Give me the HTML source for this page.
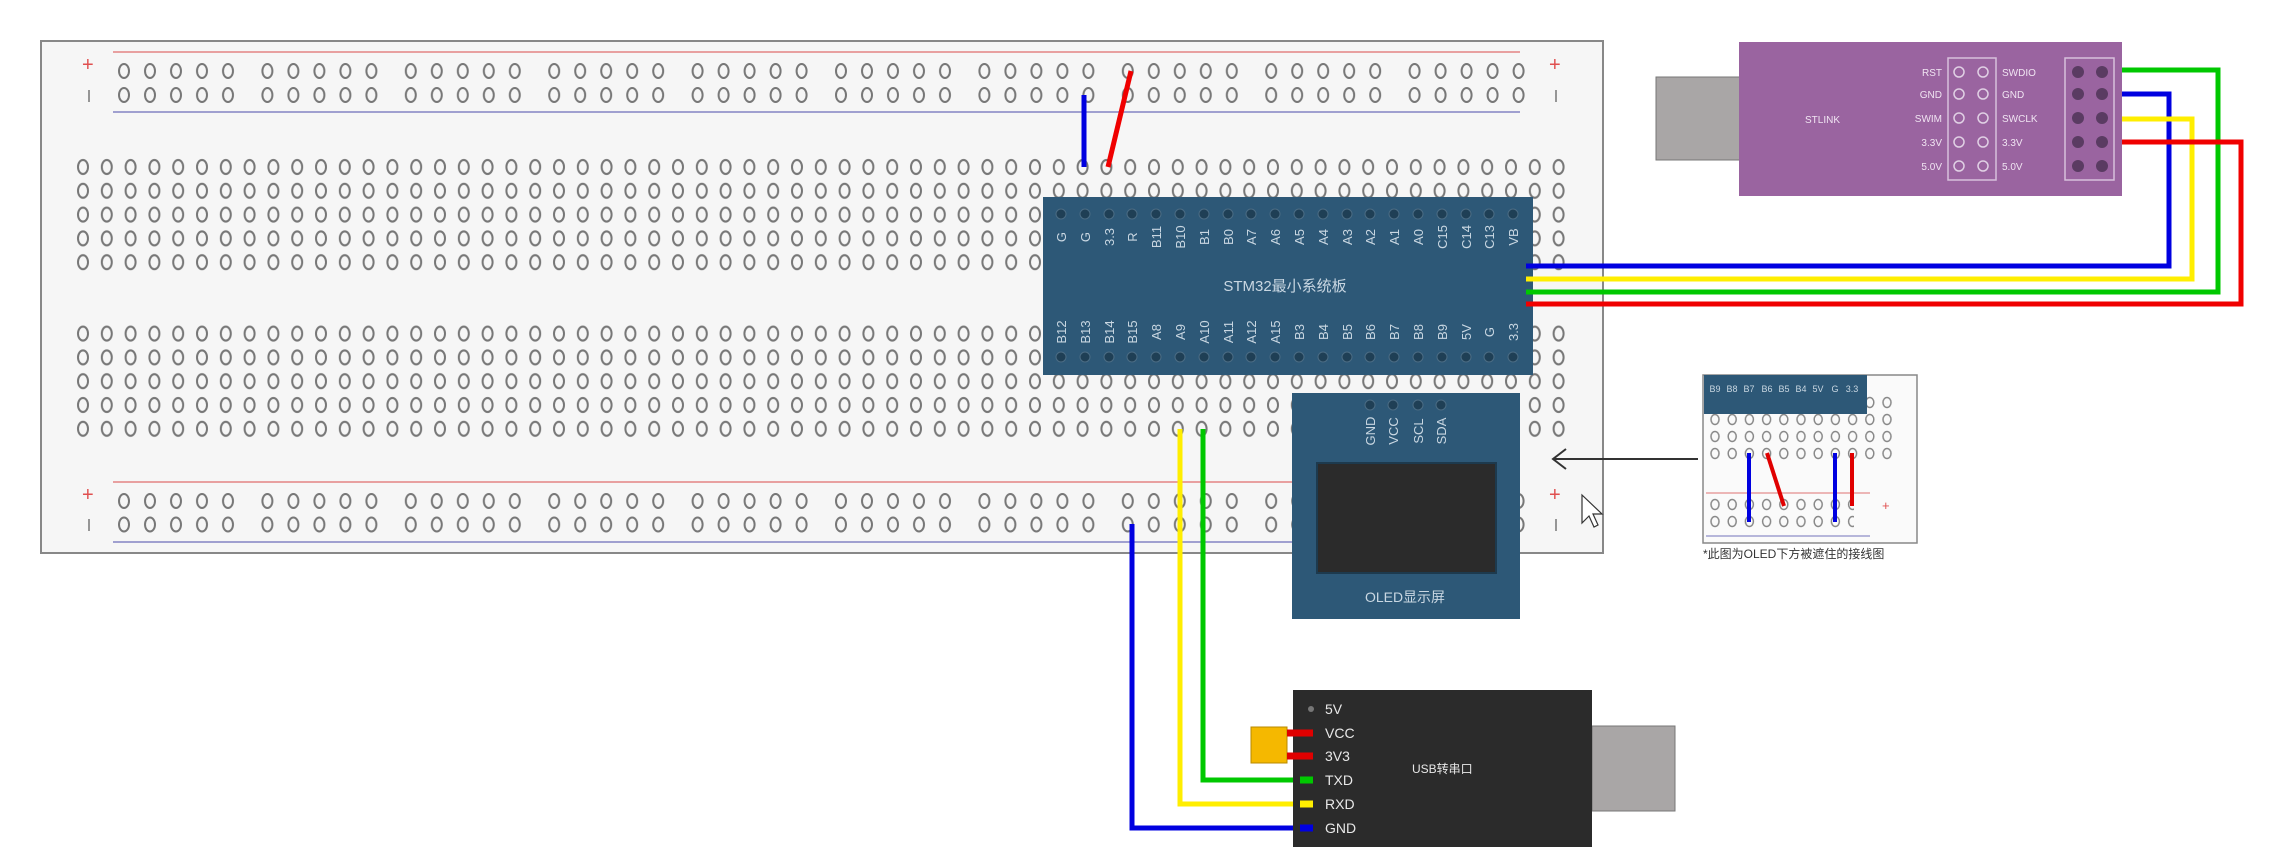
<!DOCTYPE html>
<html><head><meta charset="utf-8"><style>
html,body{margin:0;padding:0;background:#fff;}
svg{display:block;}
text{font-family:"Liberation Sans","Noto Sans CJK SC",sans-serif;}
</style></head><body>
<svg width="2269" height="853" viewBox="0 0 2269 853" xmlns="http://www.w3.org/2000/svg">
<defs>
<pattern id="hole" x="71.1" y="155.1" width="23.8" height="23.8" patternUnits="userSpaceOnUse">
<ellipse cx="11.9" cy="11.9" rx="5" ry="7" fill="none" stroke="#777" stroke-width="2"/>
</pattern>
<pattern id="rail" x="110" y="59" width="143.4" height="24" patternUnits="userSpaceOnUse">
<g fill="none" stroke="#777" stroke-width="2">
<ellipse cx="14" cy="12" rx="5" ry="7"/><ellipse cx="40" cy="12" rx="5" ry="7"/><ellipse cx="66" cy="12" rx="5" ry="7"/><ellipse cx="92" cy="12" rx="5" ry="7"/><ellipse cx="118" cy="12" rx="5" ry="7"/></g>
</pattern>
<pattern id="rail2" x="110" y="489" width="143.4" height="23.5" patternUnits="userSpaceOnUse">
<g fill="none" stroke="#777" stroke-width="2">
<ellipse cx="14" cy="12" rx="5" ry="7"/><ellipse cx="40" cy="12" rx="5" ry="7"/><ellipse cx="66" cy="12" rx="5" ry="7"/><ellipse cx="92" cy="12" rx="5" ry="7"/><ellipse cx="118" cy="12" rx="5" ry="7"/></g>
</pattern>
<pattern id="shole" x="1706.4" y="394" width="17.2" height="17" patternUnits="userSpaceOnUse">
<ellipse cx="8.6" cy="8.5" rx="4" ry="5" fill="none" stroke="#888" stroke-width="1.5"/>
</pattern>
</defs>

<!-- breadboard -->
<rect x="41" y="41" width="1562" height="512" fill="#f6f6f6" stroke="#888" stroke-width="2"/>
<line x1="113" y1="52" x2="1520" y2="52" stroke="#e8a0a0" stroke-width="2"/>
<line x1="113" y1="112" x2="1520" y2="112" stroke="#a0a0d0" stroke-width="2"/>
<line x1="113" y1="482" x2="1520" y2="482" stroke="#e8a0a0" stroke-width="2"/>
<line x1="113" y1="542" x2="1520" y2="542" stroke="#a0a0d0" stroke-width="2"/>
<rect x="110" y="59" width="1434" height="48" fill="url(#rail)"/>
<rect x="110" y="489" width="1434" height="47" fill="url(#rail2)"/>
<rect x="71.1" y="155.1" width="1499.4" height="119" fill="url(#hole)"/>
<rect x="71.1" y="321.1" width="1499.4" height="119" fill="url(#hole)"/>
<g fill="#e05050" font-size="20"><text x="82" y="71">+</text><text x="82" y="501">+</text><text x="1549" y="71">+</text><text x="1549" y="501">+</text></g>
<g stroke="#777" stroke-width="1.5"><line x1="89" y1="90" x2="89" y2="102"/><line x1="89" y1="519" x2="89" y2="531"/><line x1="1556" y1="90" x2="1556" y2="102"/><line x1="1556" y1="519" x2="1556" y2="531"/></g>

<!-- top jumpers -->
<line x1="1084" y1="95" x2="1084" y2="167" stroke="#0000e0" stroke-width="5"/>
<line x1="1131" y1="71" x2="1108" y2="167" stroke="#f00000" stroke-width="5"/>

<!-- STM32 board -->
<rect x="1043" y="197" width="490" height="178" fill="#2d5877"/>
<g fill="#1f3f55" stroke="#4b6c84" stroke-width="1">
<circle cx="1061" cy="214" r="5"/><circle cx="1085" cy="214" r="5"/><circle cx="1109" cy="214" r="5"/><circle cx="1132" cy="214" r="5"/><circle cx="1156" cy="214" r="5"/><circle cx="1180" cy="214" r="5"/><circle cx="1204" cy="214" r="5"/><circle cx="1228" cy="214" r="5"/><circle cx="1251" cy="214" r="5"/><circle cx="1275" cy="214" r="5"/><circle cx="1299" cy="214" r="5"/><circle cx="1323" cy="214" r="5"/><circle cx="1347" cy="214" r="5"/><circle cx="1370" cy="214" r="5"/><circle cx="1394" cy="214" r="5"/><circle cx="1418" cy="214" r="5"/><circle cx="1442" cy="214" r="5"/><circle cx="1466" cy="214" r="5"/><circle cx="1489" cy="214" r="5"/><circle cx="1513" cy="214" r="5"/>
<circle cx="1061" cy="357" r="5"/><circle cx="1085" cy="357" r="5"/><circle cx="1109" cy="357" r="5"/><circle cx="1132" cy="357" r="5"/><circle cx="1156" cy="357" r="5"/><circle cx="1180" cy="357" r="5"/><circle cx="1204" cy="357" r="5"/><circle cx="1228" cy="357" r="5"/><circle cx="1251" cy="357" r="5"/><circle cx="1275" cy="357" r="5"/><circle cx="1299" cy="357" r="5"/><circle cx="1323" cy="357" r="5"/><circle cx="1347" cy="357" r="5"/><circle cx="1370" cy="357" r="5"/><circle cx="1394" cy="357" r="5"/><circle cx="1418" cy="357" r="5"/><circle cx="1442" cy="357" r="5"/><circle cx="1466" cy="357" r="5"/><circle cx="1489" cy="357" r="5"/><circle cx="1513" cy="357" r="5"/>
</g>
<g fill="#c9d7e2" font-size="13" text-anchor="middle">
<text transform="translate(1066,237) rotate(-90)">G</text><text transform="translate(1090,237) rotate(-90)">G</text><text transform="translate(1114,237) rotate(-90)">3.3</text><text transform="translate(1137,237) rotate(-90)">R</text><text transform="translate(1161,237) rotate(-90)">B11</text><text transform="translate(1185,237) rotate(-90)">B10</text><text transform="translate(1209,237) rotate(-90)">B1</text><text transform="translate(1233,237) rotate(-90)">B0</text><text transform="translate(1256,237) rotate(-90)">A7</text><text transform="translate(1280,237) rotate(-90)">A6</text><text transform="translate(1304,237) rotate(-90)">A5</text><text transform="translate(1328,237) rotate(-90)">A4</text><text transform="translate(1352,237) rotate(-90)">A3</text><text transform="translate(1375,237) rotate(-90)">A2</text><text transform="translate(1399,237) rotate(-90)">A1</text><text transform="translate(1423,237) rotate(-90)">A0</text><text transform="translate(1447,237) rotate(-90)">C15</text><text transform="translate(1471,237) rotate(-90)">C14</text><text transform="translate(1494,237) rotate(-90)">C13</text><text transform="translate(1518,237) rotate(-90)">VB</text>
<text transform="translate(1066,332) rotate(-90)">B12</text><text transform="translate(1090,332) rotate(-90)">B13</text><text transform="translate(1114,332) rotate(-90)">B14</text><text transform="translate(1137,332) rotate(-90)">B15</text><text transform="translate(1161,332) rotate(-90)">A8</text><text transform="translate(1185,332) rotate(-90)">A9</text><text transform="translate(1209,332) rotate(-90)">A10</text><text transform="translate(1233,332) rotate(-90)">A11</text><text transform="translate(1256,332) rotate(-90)">A12</text><text transform="translate(1280,332) rotate(-90)">A15</text><text transform="translate(1304,332) rotate(-90)">B3</text><text transform="translate(1328,332) rotate(-90)">B4</text><text transform="translate(1352,332) rotate(-90)">B5</text><text transform="translate(1375,332) rotate(-90)">B6</text><text transform="translate(1399,332) rotate(-90)">B7</text><text transform="translate(1423,332) rotate(-90)">B8</text><text transform="translate(1447,332) rotate(-90)">B9</text><text transform="translate(1471,332) rotate(-90)">5V</text><text transform="translate(1494,332) rotate(-90)">G</text><text transform="translate(1518,332) rotate(-90)">3.3</text>
<text x="1285" y="291" font-size="15">STM32最小系统板</text>
</g>

<!-- SWD wires -->
<g fill="none" stroke-width="5" stroke-linejoin="miter">
<polyline points="1526,266 2169,266 2169,94 2104,94" stroke="#0000e0"/>
<polyline points="1526,279 2192,279 2192,119 2104,119" stroke="#ffee00"/>
<polyline points="1526,292 2218,292 2218,70 2104,70" stroke="#00c800"/>
<polyline points="1526,304 2241,304 2241,142 2104,142" stroke="#f00000"/>
</g>

<!-- ST-Link -->
<rect x="1656" y="77" width="84" height="83" fill="#a9a6a6" stroke="#777"/>
<rect x="1739" y="42" width="383" height="154" fill="#9a64a0"/>
<rect x="1948" y="58" width="48" height="122" fill="none" stroke="#d8c0dc" stroke-width="1.5"/>
<rect x="2065" y="58" width="49" height="122" fill="none" stroke="#d8c0dc" stroke-width="1.5"/>
<g fill="none" stroke="#e0d0e4" stroke-width="1.5">
<circle cx="1959" cy="72" r="5"/><circle cx="1983" cy="72" r="5"/><circle cx="1959" cy="94" r="5"/><circle cx="1983" cy="94" r="5"/><circle cx="1959" cy="118" r="5"/><circle cx="1983" cy="118" r="5"/><circle cx="1959" cy="142" r="5"/><circle cx="1983" cy="142" r="5"/><circle cx="1959" cy="166" r="5"/><circle cx="1983" cy="166" r="5"/></g>
<g fill="#5a3b62">
<circle cx="2078" cy="72" r="6"/><circle cx="2102" cy="72" r="6"/><circle cx="2078" cy="94" r="6"/><circle cx="2102" cy="94" r="6"/><circle cx="2078" cy="118" r="6"/><circle cx="2102" cy="118" r="6"/><circle cx="2078" cy="142" r="6"/><circle cx="2102" cy="142" r="6"/><circle cx="2078" cy="166" r="6"/><circle cx="2102" cy="166" r="6"/></g>
<g fill="#f0e4f2" font-size="10">
<g text-anchor="end"><text x="1942" y="76">RST</text><text x="1942" y="98">GND</text><text x="1942" y="122">SWIM</text><text x="1942" y="146">3.3V</text><text x="1942" y="170">5.0V</text></g>
<text x="2002" y="76">SWDIO</text><text x="2002" y="98">GND</text><text x="2002" y="122">SWCLK</text><text x="2002" y="146">3.3V</text><text x="2002" y="170">5.0V</text>
<text x="1805" y="123">STLINK</text></g>

<!-- OLED wires to USB -->
<g fill="none" stroke-width="5">
<polyline points="1180,429 1180,804 1313,804" stroke="#ffee00"/>
<polyline points="1203,429 1203,780 1313,780" stroke="#00c800"/>
<polyline points="1132,524 1132,828 1313,828" stroke="#0000e0"/>
</g>

<!-- OLED -->
<rect x="1292" y="393" width="228" height="226" fill="#2d5877"/>
<g fill="#1f3f55" stroke="#4b6c84"><circle cx="1370" cy="405" r="5"/><circle cx="1393" cy="405" r="5"/><circle cx="1418" cy="405" r="5"/><circle cx="1441" cy="405" r="5"/></g>
<g fill="#c9d7e2" font-size="13" text-anchor="middle">
<text transform="translate(1375,431) rotate(-90)">GND</text><text transform="translate(1398,431) rotate(-90)">VCC</text><text transform="translate(1423,431) rotate(-90)">SCL</text><text transform="translate(1446,431) rotate(-90)">SDA</text>
<text x="1405" y="602" font-size="14">OLED显示屏</text></g>
<rect x="1317" y="463" width="179" height="110" fill="#2b2b2b" stroke="#1d3a4e" stroke-width="2"/>

<!-- arrow -->
<line x1="1698" y1="459" x2="1553" y2="459" stroke="#333" stroke-width="2"/>
<polyline points="1566,449 1553,459 1566,469" fill="none" stroke="#333" stroke-width="2"/>

<!-- inset -->
<rect x="1703" y="375" width="214" height="168" fill="#fafafa" stroke="#888" stroke-width="1.5"/>
<rect x="1704" y="394" width="190" height="68" fill="url(#shole)"/>
<rect x="1704" y="497" width="150" height="34" fill="url(#shole)"/>
<line x1="1706" y1="493" x2="1870" y2="493" stroke="#e8a0a0" stroke-width="1.5"/>
<line x1="1706" y1="536" x2="1870" y2="536" stroke="#a0a0d0" stroke-width="1.5"/>
<rect x="1704" y="375" width="163" height="39" fill="#2d5877"/>
<g fill="#c9d7e2" font-size="9" text-anchor="middle">
<text x="1715" y="392">B9</text><text x="1732" y="392">B8</text><text x="1749" y="392">B7</text><text x="1767" y="392">B6</text><text x="1784" y="392">B5</text><text x="1801" y="392">B4</text><text x="1818" y="392">5V</text><text x="1835" y="392">G</text><text x="1852" y="392">3.3</text></g>
<g stroke-width="4"><line x1="1749" y1="453" x2="1749" y2="522" stroke="#0000e0"/><line x1="1767" y1="453" x2="1784" y2="506" stroke="#e00000"/><line x1="1835" y1="453" x2="1835" y2="522" stroke="#0000e0"/><line x1="1852" y1="453" x2="1852" y2="506" stroke="#e00000"/></g>
<text x="1882" y="510" fill="#e05050" font-size="13">+</text>
<text x="1703" y="558" font-size="12" fill="#333">*此图为OLED下方被遮住的接线图</text>

<!-- USB serial -->
<rect x="1592" y="726" width="83" height="85" fill="#a9a6a6" stroke="#777"/>
<rect x="1293" y="690" width="299" height="157" fill="#2b2b2b"/>
<rect x="1251" y="727" width="36" height="36" fill="#f5b800" stroke="#b88a00"/>
<circle cx="1311" cy="709" r="3" fill="#777"/>
<g stroke-width="7"><line x1="1287" y1="733" x2="1313" y2="733" stroke="#e00000"/><line x1="1287" y1="756" x2="1313" y2="756" stroke="#e00000"/><line x1="1300" y1="780" x2="1313" y2="780" stroke="#00c800"/><line x1="1300" y1="804" x2="1313" y2="804" stroke="#ffee00"/><line x1="1300" y1="828" x2="1313" y2="828" stroke="#0000e0"/></g>
<g fill="#e8e8e8" font-size="14"><text x="1325" y="714">5V</text><text x="1325" y="738">VCC</text><text x="1325" y="761">3V3</text><text x="1325" y="785">TXD</text><text x="1325" y="809">RXD</text><text x="1325" y="833">GND</text>
<text x="1412" y="773" font-size="12">USB转串口</text></g>

<!-- cursor -->
<polygon points="1582,495 1582,523 1589,516 1594,527 1598,525 1593,514 1602,514" fill="#fff" stroke="#333" stroke-width="1.2"/>
</svg>
</body></html>
